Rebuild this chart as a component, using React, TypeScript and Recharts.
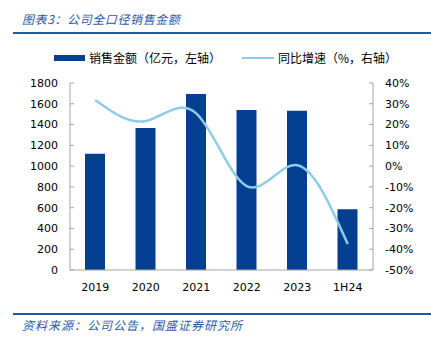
import { ComposedChart, Bar, Line, XAxis, YAxis } from 'recharts'

const years = ['2019', '2020', '2021', '2022', '2023', '1H24']
const sales = [1120, 1366, 1694, 1540, 1533, 585]
const growth = [31.8, 21.7, 25.4, -9.6, 0.4, -37.5]
const leftTicks = [0, 200, 400, 600, 800, 1000, 1200, 1400, 1600, 1800]
const rightTicks = [-50, -40, -30, -20, -10, 0, 10, 20, 30, 40]

const BAR_COLOR = '#053F91'
const LINE_COLOR = '#8DCDE6'
const AXIS_COLOR = '#A6A6A6'
const TEXT_BLUE = '#2A5AA6'
const tickStyle = { fill: '#000', fontSize: 11, fontFamily: 'DejaVu Sans' }

const data = years.map((year, i) => ({ year, sales: sales[i], growth: growth[i] }))

export default function App() {
  return (
    <div style={{ position: 'absolute', left: 0, top: 0, width: 431, height: 340, background: '#fff', fontFamily: '"Noto Sans CJK SC"' }}>
      <div style={{ position: 'absolute', left: 22, top: 10, fontSize: 12, fontStyle: 'italic', color: TEXT_BLUE, whiteSpace: 'nowrap', lineHeight: '18px', letterSpacing: 0.6 }}>
        图表3：公司全口径销售金额
      </div>
      <div style={{ position: 'absolute', left: 13, top: 32, width: 418, height: 2, background: '#1F5AA8' }} />

      {/* legend */}
      <div style={{ position: 'absolute', left: 54, top: 55, width: 31, height: 6, background: BAR_COLOR }} />
      <div style={{ position: 'absolute', left: 89, top: 49, fontSize: 12, lineHeight: '18px', whiteSpace: 'nowrap' }}>销售金额（亿元，左轴）</div>
      <div style={{ position: 'absolute', left: 242, top: 57, width: 32, height: 2, background: LINE_COLOR }} />
      <div style={{ position: 'absolute', left: 278, top: 49, fontSize: 12, lineHeight: '18px', whiteSpace: 'nowrap' }}>同比增速（%，右轴）</div>

      <div style={{ position: 'absolute', left: 0, top: 0 }}>
        <ComposedChart width={431} height={340} data={data} margin={{ top: 83, right: 0, bottom: 40, left: 10 }}>
          <XAxis
            dataKey="year"
            axisLine={{ stroke: AXIS_COLOR }}
            tickLine={false}
            tickSize={6}
            tickMargin={7}
            height={30}
            tick={tickStyle}
            interval={0}
          />
          <YAxis
            yAxisId="left"
            orientation="left"
            width={60}
            domain={[0, 1800]}
            ticks={leftTicks}
            interval={0}
            axisLine={{ stroke: AXIS_COLOR }}
            tickLine={{ stroke: AXIS_COLOR }}
            tickSize={-4}
            tickMargin={16}
            tick={tickStyle}
          />
          <YAxis
            yAxisId="right"
            orientation="right"
            width={58}
            domain={[-50, 40]}
            ticks={rightTicks}
            interval={0}
            axisLine={{ stroke: AXIS_COLOR }}
            tickLine={{ stroke: AXIS_COLOR }}
            tickSize={-4}
            tickMargin={16}
            tick={{ ...tickStyle, textAnchor: 'start' }}
            tickFormatter={(v) => `${v}%`}
          />
          <Bar yAxisId="left" dataKey="sales" fill={BAR_COLOR} barSize={20} isAnimationActive={false} />
          <Line
            yAxisId="right"
            dataKey="growth"
            type="natural"
            stroke={LINE_COLOR}
            strokeWidth={2.5}
            dot={false}
            activeDot={false}
            isAnimationActive={false}
          />
        </ComposedChart>
      </div>

      <div style={{ position: 'absolute', left: 13, top: 313, width: 418, height: 2, background: '#1F5AA8' }} />
      <div style={{ position: 'absolute', left: 22, top: 316, fontSize: 12, fontStyle: 'italic', color: TEXT_BLUE, whiteSpace: 'nowrap', lineHeight: '18px', letterSpacing: 1 }}>
        资料来源：公司公告，国盛证券研究所
      </div>
    </div>
  )
}
